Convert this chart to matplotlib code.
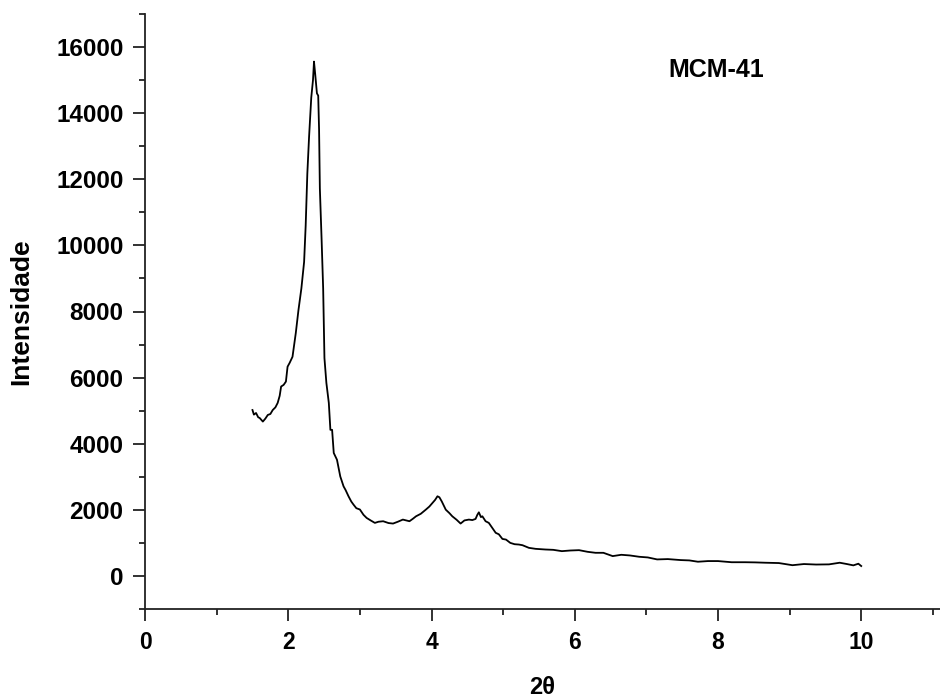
import matplotlib.pyplot as plt
from matplotlib.ticker import MultipleLocator

plt.rcParams['font.family'] = ['Liberation Sans', 'DejaVu Sans']
plt.rcParams['font.weight'] = 'bold'

two_theta = [1.50, 1.52, 1.55, 1.58, 1.60, 1.645, 1.68, 1.714, 1.75, 1.783, 1.82,
             1.852, 1.88, 1.90, 1.935, 1.967, 1.99, 2.02, 2.059, 2.105, 2.142,
             2.183, 2.221, 2.243, 2.266, 2.290, 2.321, 2.345, 2.359, 2.375,
             2.40, 2.418, 2.430, 2.441, 2.465, 2.487, 2.505, 2.532, 2.566,
             2.588, 2.612, 2.635, 2.680, 2.726, 2.772, 2.80, 2.841, 2.88,
             2.910, 2.95, 3.00, 3.05, 3.094, 3.15, 3.209, 3.26, 3.325, 3.40,
             3.463, 3.53, 3.60, 3.692, 3.74, 3.784, 3.85, 3.92, 3.97, 4.014,
             4.05, 4.083, 4.11, 4.143, 4.199, 4.25, 4.29, 4.35, 4.406, 4.46,
             4.522, 4.57, 4.615, 4.640, 4.661, 4.69, 4.71, 4.755, 4.80, 4.85,
             4.896, 4.94, 4.99, 5.04, 5.10, 5.16, 5.22, 5.27, 5.36, 5.453,
             5.59, 5.70, 5.82, 5.94, 6.06, 6.18, 6.29, 6.40, 6.53, 6.65,
             6.77, 6.90, 7.02, 7.15, 7.30, 7.48, 7.60, 7.72, 7.86, 8.00,
             8.19, 8.38, 8.52, 8.66, 8.85, 9.04, 9.20, 9.37, 9.55, 9.70,
             9.80, 9.89, 9.96, 10.0]
intensity = [5020, 4880, 4930, 4800, 4780, 4670, 4760, 4870, 4900, 5020, 5100,
             5235, 5450, 5730, 5780, 5880, 6330, 6450, 6630, 7350, 8040,
             8700, 9500, 10600, 12170, 13270, 14475, 15000, 15560, 15200,
             14600, 14530, 13500, 11720, 10200, 8700, 6590, 5840, 5235,
             4420, 4420, 3720, 3515, 3010, 2710, 2600, 2410, 2250,
             2160, 2050, 2010, 1850, 1755, 1680, 1605, 1640, 1655, 1600,
             1585, 1640, 1705, 1655, 1730, 1805, 1880, 2005, 2100, 2210,
             2300, 2410, 2380, 2255, 2005, 1900, 1805, 1700, 1585, 1680,
             1705, 1690, 1725, 1850, 1925, 1780, 1805, 1655, 1605, 1450,
             1305, 1260, 1120, 1100, 1000, 960, 950, 930, 850, 820,
             800, 790, 750, 770, 780, 730, 700, 700, 600, 640,
             620, 580, 560, 500, 510, 480, 470, 430, 450, 450,
             415, 415, 410, 400, 390, 325, 360, 345, 350, 400,
             360, 320, 370, 300]

fig = plt.figure(figsize=(9.4, 7), dpi=100)
ax = fig.add_axes([0.1543, 0.130, 0.8457, 0.850])

ax.plot(two_theta, intensity, color='black', linewidth=1.3)

ax.set_xlim(0, 11.1)
ax.set_ylim(-1000, 17000)

ax.spines['top'].set_visible(False)
ax.spines['right'].set_visible(False)
for s in ['left', 'bottom']:
    ax.spines[s].set_linewidth(1.3)
    ax.spines[s].set_color('#222222')

ax.xaxis.set_major_locator(MultipleLocator(2))
ax.xaxis.set_minor_locator(MultipleLocator(1))
ax.yaxis.set_major_locator(MultipleLocator(2000))
ax.yaxis.set_minor_locator(MultipleLocator(1000))

ax.tick_params(which='major', direction='out', length=8.5, width=1.3, color='#222222')
ax.tick_params(which='minor', direction='out', length=4.5, width=1.3, color='#222222')
ax.tick_params(axis='y', which='major', labelsize=17.5, pad=7)
ax.tick_params(axis='x', which='major', labelsize=16.5, pad=7)
for lab in ax.get_xticklabels() + ax.get_yticklabels():
    lab.set_fontweight('bold')

ax.set_ylabel('Intensidade', fontsize=19, fontweight='bold')
ax.yaxis.set_label_coords(-0.141, 0.5)
ax.set_xlabel('2θ', fontsize=17, fontweight='bold')
ax.xaxis.set_label_coords(0.5, -0.112)

ax.text(7.97, 15300, 'MCM-41', ha='center', va='center',
        fontsize=18, fontweight='bold')

plt.savefig('out.png', dpi=100)
